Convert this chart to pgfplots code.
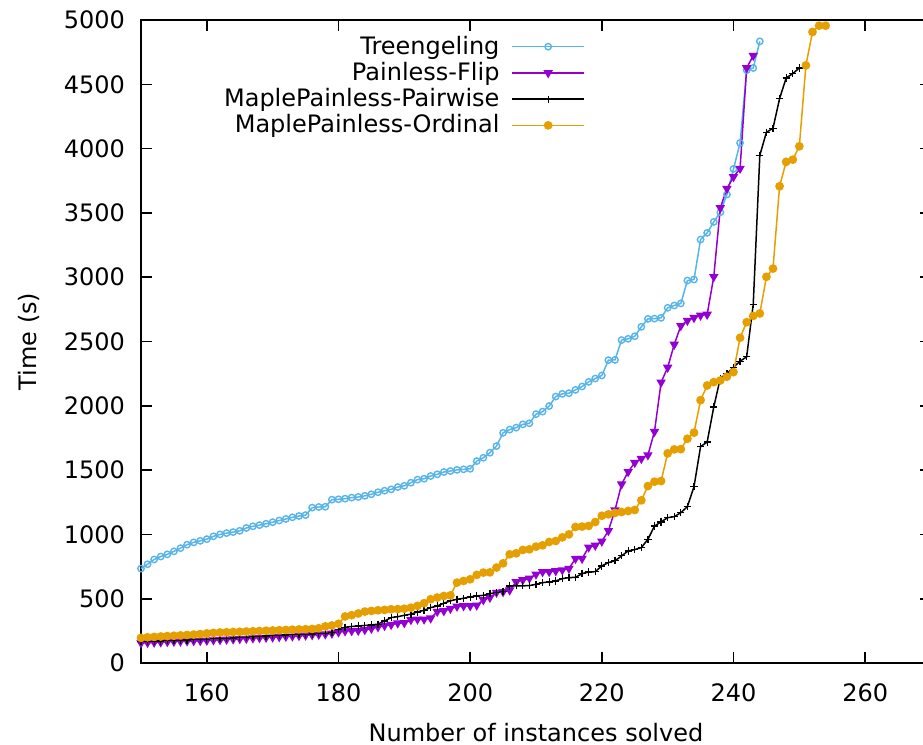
\documentclass[border=0pt]{standalone}
\usepackage{fontspec}
\setmainfont{DejaVu Sans}
\usepackage{pgfplots}
\pgfplotsset{compat=1.18}
\definecolor{cblue}{RGB}{86,180,233}
\definecolor{cpurple}{RGB}{148,0,211}
\definecolor{corange}{RGB}{230,159,0}
\begin{document}
\begin{tikzpicture}
\path[use as bounding box] (-70.5pt,-41pt) rectangle (391pt,331.5pt);
\begin{axis}[
  scale only axis,
  width=395pt, height=321.5pt,
  xmin=150, xmax=270, ymin=0, ymax=5000,
  xtick={160,180,...,260},
  ytick={0,500,...,5000},
  /pgf/number format/assume math mode=true,
  /pgf/number format/1000 sep={},
  font=\fontsize{12}{14}\selectfont,
  tick label style={font=\fontsize{12}{14}\selectfont},
  yticklabel style={xshift=-4.5pt},
  xticklabel style={yshift=-7pt},
  axis line style={black, line width=1pt},
  tick style={black, line width=0.8pt},
  major tick length=5.5pt,
  tick align=inside,
  every axis y label/.style={at={(axis description cs:-0.1418,0.5)}, rotate=90, anchor=center},
  every axis x label/.style={at={(axis description cs:0.5,-0.108)}, anchor=center},
  xlabel={Number of instances solved},
  ylabel={Time (s)},
  legend style={draw=none, fill=none, at={(axis description cs:0.565,0.985)}, anchor=north east,
    row sep=-1.5pt, column sep=4pt, font=\fontsize{12}{14}\selectfont, inner sep=1pt},
  legend cell align=right,
  legend plot pos=right,
  legend image code/.code={\draw[mark repeat=2,mark phase=2,#1] plot coordinates {(0pt,0pt) (18pt,0pt) (36pt,0pt)};},
]
\addplot[cblue, line width=0.75pt, mark=o, mark size=1.6pt, mark options={line width=0.7pt}] coordinates {
(150,734)(151,768)(152,805)(153,828)(154,845)(155,868)(156,893)(157,920)(158,938)(159,950)
(160,963)(161,985)(162,1000)(163,1010)(164,1018)(165,1028)(166,1050)(167,1063)(168,1072)(169,1083)
(170,1095)(171,1108)(172,1120)(173,1133)(174,1143)(175,1150)(176,1208)(177,1213)(178,1215)(179,1270)
(180,1273)(181,1278)(182,1286)(183,1291)(184,1300)(185,1312)(186,1328)(187,1340)(188,1350)(189,1368)
(190,1378)(191,1402)(192,1426)(193,1433)(194,1454)(195,1467)(196,1485)(197,1493)(198,1502)(199,1506)
(200,1510)(201,1570)(202,1596)(203,1635)(204,1687)(205,1790)(206,1815)(207,1830)(208,1856)(209,1864)
(210,1935)(211,1955)(212,1998)(213,2072)(214,2093)(215,2098)(216,2124)(217,2150)(218,2186)(219,2212)
(220,2236)(221,2355)(222,2357)(223,2511)(224,2521)(225,2541)(226,2614)(227,2676)(228,2678)(229,2684)
(230,2762)(231,2780)(232,2796)(233,2974)(234,2982)(235,3293)(236,3345)(237,3430)(238,3505)(239,3643)
(240,3842)(241,4044)(242,4610)(243,4627)(244,4834)
};
\addlegendentry{Treengeling}
\addplot[cpurple, line width=0.75pt, mark=triangle*, mark size=2pt, mark options={rotate=180}] coordinates {
(150,155)(151,158)(152,160)(153,162)(154,165)(155,167)(156,168)(157,170)(158,172)(159,173)
(160,175)(161,178)(162,180)(163,183)(164,185)(165,188)(166,190)(167,193)(168,196)(169,198)
(170,200)(171,203)(172,206)(173,208)(174,212)(175,215)(176,218)(177,221)(178,224)(179,230)
(180,240)(181,248)(182,250)(183,252)(184,258)(185,268)(186,280)(187,290)(188,298)(189,310)
(190,312)(191,336)(192,340)(193,340)(194,348)(195,400)(196,405)(197,423)(198,440)(199,444)
(200,444)(201,449)(202,490)(203,509)(204,548)(205,553)(206,566)(207,630)(208,646)(209,659)
(210,690)(211,709)(212,709)(213,716)(214,723)(215,734)(216,812)(217,812)(218,900)(219,914)
(220,946)(221,1028)(222,1188)(223,1390)(224,1487)(225,1558)(226,1589)(227,1617)(228,1799)(229,2182)
(230,2298)(231,2477)(232,2622)(233,2663)(234,2685)(235,2703)(236,2710)(237,3003)(238,3539)(239,3689)
(240,3780)(241,3845)(242,4627)(243,4723)
};
\addlegendentry{Painless-Flip}
\addplot[black, line width=0.75pt, mark=+, mark size=1.8pt, mark options={line width=0.6pt}] coordinates {
(150,165)(151,167)(152,169)(153,171)(154,173)(155,175)(156,177)(157,179)(158,181)(159,183)
(160,185)(161,188)(162,190)(163,193)(164,195)(165,198)(166,200)(167,203)(168,206)(169,210)
(170,214)(171,216)(172,218)(173,220)(174,222)(175,224)(176,226)(177,228)(178,232)(179,240)
(180,262)(181,278)(182,284)(183,288)(184,292)(185,296)(186,302)(187,327)(188,353)(189,360)
(190,371)(191,380)(192,397)(193,410)(194,431)(195,443)(196,465)(197,483)(198,496)(199,503)
(200,514)(201,521)(202,526)(203,540)(204,548)(205,553)(206,599)(207,600)(208,600)(209,602)
(210,612)(211,625)(212,630)(213,638)(214,656)(215,664)(216,666)(217,695)(218,708)(219,710)
(220,755)(221,781)(222,794)(223,833)(224,871)(225,882)(226,897)(227,962)(228,1065)(229,1097)
(230,1130)(231,1138)(232,1169)(233,1216)(234,1371)(235,1683)(236,1718)(237,1990)(238,2215)(239,2250)
(240,2300)(241,2347)(242,2381)(243,2790)(244,3948)(245,4127)(246,4158)(247,4389)(248,4549)(249,4583)
(250,4627)
};
\addlegendentry{MaplePainless-Pairwise}
\addplot[corange, line width=0.75pt, mark=*, mark size=1.8pt] coordinates {
(150,195)(151,200)(152,203)(153,206)(154,209)(155,212)(156,215)(157,218)(158,221)(159,225)
(160,230)(161,234)(162,237)(163,239)(164,241)(165,243)(166,245)(167,247)(168,249)(169,251)
(170,253)(171,255)(172,257)(173,259)(174,261)(175,263)(176,265)(177,270)(178,285)(179,292)
(180,305)(181,362)(182,372)(183,385)(184,400)(185,405)(186,410)(187,413)(188,418)(189,419)
(190,422)(191,430)(192,444)(193,465)(194,496)(195,509)(196,521)(197,526)(198,625)(199,638)
(200,651)(201,685)(202,703)(203,705)(204,742)(205,775)(206,845)(207,853)(208,879)(209,884)
(210,905)(211,915)(212,941)(213,949)(214,977)(215,1000)(216,1058)(217,1061)(218,1066)(219,1096)
(220,1145)(221,1156)(222,1167)(223,1174)(224,1182)(225,1190)(226,1265)(227,1376)(228,1410)(229,1415)
(230,1630)(231,1661)(232,1663)(233,1744)(234,1791)(235,2044)(236,2158)(237,2184)(238,2197)(239,2226)
(240,2262)(241,2529)(242,2650)(243,2699)(244,2718)(245,3003)(246,3067)(247,3707)(248,3897)(249,3914)
(250,4018)(251,4647)(252,4907)(253,4956)(254,4956)
};
\addlegendentry{MaplePainless-Ordinal}
\end{axis}
\end{tikzpicture}
\end{document}
